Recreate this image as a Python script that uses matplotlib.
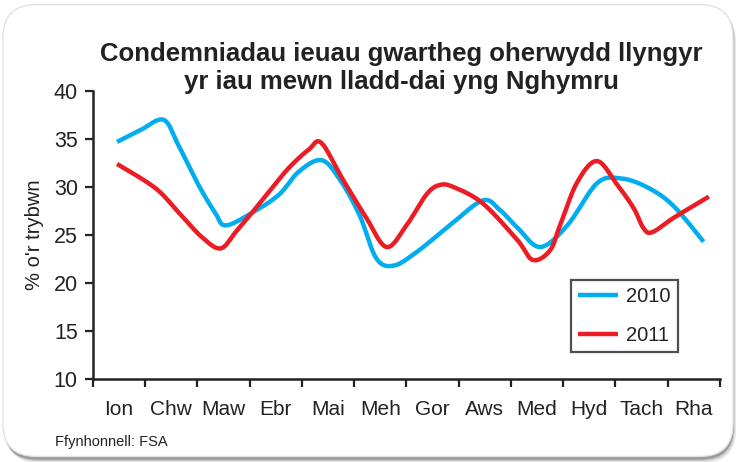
import matplotlib.pyplot as plt
import numpy as np
from matplotlib.patches import FancyBboxPatch

months = ["Ion", "Chw", "Maw", "Ebr", "Mai", "Meh", "Gor", "Aws", "Med", "Hyd", "Tach", "Rha"]

# points, x in months (0 = left edge of Ion)
x_2010 = [0.46, 0.9, 1.35, 1.63, 2.02, 2.34, 2.54, 3.04, 3.56, 3.94, 4.37, 4.71, 5.1, 5.42, 5.75,
          6.19, 6.83, 7.46, 7.79, 8.12, 8.56, 9.08, 9.65, 10.1, 10.6, 11.1, 11.69]
y_2010 = [34.7, 35.9, 37.0, 34.4, 30.2, 27.3, 26.0, 27.3, 29.2, 31.6, 32.8, 30.9, 27.1, 22.6, 21.8,
          23.2, 26.0, 28.6, 27.6, 25.8, 23.75, 26.0, 30.4, 30.9, 30.0, 28.1, 24.3]

x_2011 = [0.46, 1.19, 1.63, 2.08, 2.44, 2.73, 3.04, 3.37, 3.75, 4.13, 4.37, 4.77, 5.23, 5.62,
          6.0, 6.38, 6.63, 6.9, 7.46, 8.12, 8.42, 8.75, 8.94, 9.27, 9.65, 10.04, 10.35, 10.54,
          10.71, 11.12, 11.79]
y_2011 = [32.4, 29.9, 27.4, 24.8, 23.6, 25.3, 27.3, 29.5, 32.0, 33.9, 34.6, 30.9, 26.8, 23.75,
          26.0, 29.2, 30.2, 30.0, 28.3, 24.5, 22.4, 23.4, 26.0, 30.5, 32.7, 30.2, 27.8, 25.7,
          25.3, 26.8, 29.0]

blue = "#00aeef"
red = "#ed1c24"


def smooth(xs, ys, n=20):
    # catmull-rom through the read points, just for drawing
    p = np.column_stack([xs, ys]).astype(float)
    p = np.vstack([p[0], p, p[-1]])
    out = []
    t = np.linspace(0, 1, n, endpoint=False)[:, None]
    for i in range(1, len(p) - 2):
        p0, p1, p2, p3 = p[i - 1], p[i], p[i + 1], p[i + 2]
        seg = 0.5 * ((2 * p1) + (-p0 + p2) * t + (2 * p0 - 5 * p1 + 4 * p2 - p3) * t ** 2
                     + (-p0 + 3 * p1 - 3 * p2 + p3) * t ** 3)
        out.append(seg)
    out.append(p[-2][None, :])
    out = np.vstack(out)
    return out[:, 0], out[:, 1]


plt.rcParams['font.family'] = ['Liberation Sans', 'DejaVu Sans']

fig = plt.figure(figsize=(7.36, 4.62), dpi=100)
fig.patch.set_facecolor("white")

# rounded frame with a soft shadow
for off, col in [(0.010, "#e6e6e6"), (0.006, "#c8c8c8"), (0.003, "#9a9a9a")]:
    sh = FancyBboxPatch((0.004 + off * 0.4, 0.008 - off), 0.992, 0.982,
                        boxstyle="round,pad=0,rounding_size=0.045", mutation_aspect=736 / 462,
                        transform=fig.transFigure, facecolor=col, edgecolor="none", zorder=-3)
    fig.patches.append(sh)
frame = FancyBboxPatch((0.004, 0.012), 0.992, 0.978, boxstyle="round,pad=0,rounding_size=0.045",
                       mutation_aspect=736 / 462, transform=fig.transFigure, facecolor="white",
                       edgecolor="#e2e2e2", linewidth=1.0, zorder=-1)
fig.patches.append(frame)

ax = fig.add_axes([0.1264, 0.1797, 0.8516, 0.6233])
ax.set_facecolor("none")

xs, ys = smooth(x_2010, y_2010)
ax.plot(xs, ys, color=blue, lw=3.2, solid_capstyle="butt", label="2010")
xs, ys = smooth(x_2011, y_2011)
ax.plot(xs, ys, color=red, lw=3.2, solid_capstyle="butt", label="2011")

ax.set_xlim(0, 12)
ax.set_ylim(10, 40)
ax.set_yticks(range(10, 41, 5))
ax.set_xticks(range(13))
ax.set_xticklabels([])
ax.set_xticks(np.arange(12) + 0.5, minor=True)
ax.set_xticklabels(months, minor=True)
ax.tick_params(axis="x", which="minor", length=0, pad=15, labelsize=15, colors="#222222")
ax.tick_params(axis="x", which="major", length=6, width=1.6, direction="out", color="#222222")
ax.tick_params(axis="y", length=6, width=1.6, direction="out", pad=5, labelsize=15.5,
               colors="#222222")
for s in ["top", "right"]:
    ax.spines[s].set_visible(False)
for s in ["left", "bottom"]:
    ax.spines[s].set_linewidth(1.8)
    ax.spines[s].set_color("#222222")

ax.set_ylabel("% o'r trybwn", fontsize=14.5, color="#222222", labelpad=7)

leg = ax.legend(loc="lower right", bbox_to_anchor=(0.933, 0.094), fontsize=14.5, frameon=True,
                fancybox=False, handlelength=2.0, handletextpad=0.4, labelspacing=1.0,
                borderpad=0.35, borderaxespad=0)
leg.get_frame().set_edgecolor("#222222")
leg.get_frame().set_linewidth(1.6)
for t in leg.get_texts():
    t.set_color("#222222")

fig.text(0.545, 0.853, "Condemniadau ieuau gwartheg oherwydd llyngyr\nyr iau mewn lladd-dai yng Nghymru",
         ha="center", va="center", fontsize=18.5, fontweight="bold", color="#222222",
         linespacing=1.22)
fig.text(0.075, 0.035, "Ffynhonnell: FSA", fontsize=10.5, color="#222222")

fig.savefig("out.png", dpi=100)
